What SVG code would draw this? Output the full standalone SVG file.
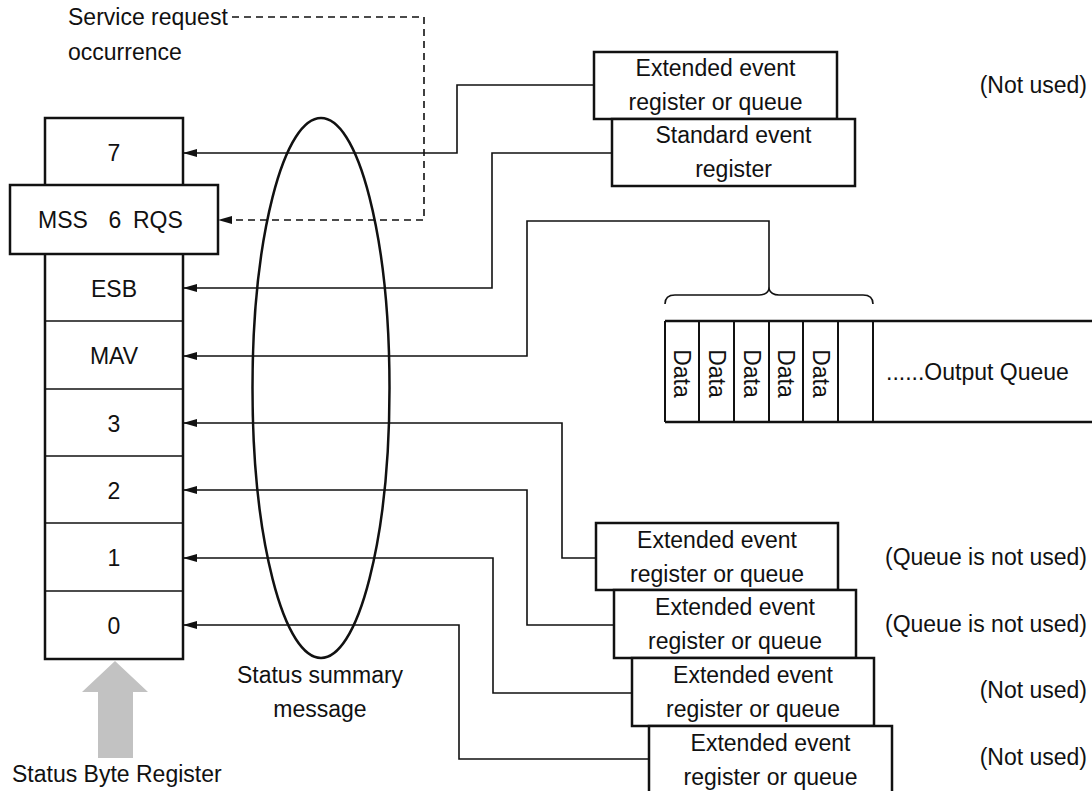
<svg xmlns="http://www.w3.org/2000/svg" width="1092" height="791" viewBox="0 0 1092 791">
<style>
  text { font-family: "Liberation Sans", Arial, sans-serif; font-size: 23px; fill: #111; }
  .c { text-anchor: middle; }
  .r { text-anchor: end; }
  .box { fill: #fff; stroke: #111; stroke-width: 2.5; }
  .thin { stroke: #111; stroke-width: 1.5; fill: none; }
  .conn { stroke: #111; stroke-width: 1.6; fill: none; }
  .dash { stroke: #111; stroke-width: 1.6; fill: none; stroke-dasharray: 7 5; }
</style>
<defs>
  <marker id="ah" viewBox="0 0 14 8" refX="14" refY="4" markerWidth="14" markerHeight="8" markerUnits="userSpaceOnUse" orient="auto">
    <path d="M0,0 L14,4 L0,8 z" fill="#111"/>
  </marker>
</defs>
<rect width="1092" height="791" fill="#fff"/>

<!-- Status byte register -->
<g id="status-byte-register">
  <rect class="box" x="45" y="118" width="138" height="541"/>
  <rect class="box" x="10" y="185" width="208" height="69"/>
  <line class="thin" x1="45" y1="321" x2="183" y2="321"/>
  <line class="thin" x1="45" y1="389" x2="183" y2="389"/>
  <line class="thin" x1="45" y1="456" x2="183" y2="456"/>
  <line class="thin" x1="45" y1="523" x2="183" y2="523"/>
  <line class="thin" x1="45" y1="591" x2="183" y2="591"/>
  <text class="c" x="114" y="161">7</text>
  <text x="38" y="228">MSS</text>
  <text class="c" x="115" y="228">6</text>
  <text x="133" y="228">RQS</text>
  <text class="c" x="114" y="297">ESB</text>
  <text class="c" x="114" y="364">MAV</text>
  <text class="c" x="114" y="432">3</text>
  <text class="c" x="114" y="499">2</text>
  <text class="c" x="114" y="566">1</text>
  <text class="c" x="114" y="634">0</text>
  <polygon points="115,661 148,692 133,692 133,758 98,758 98,692 82,692" fill="#c2c2c2"/>
  <text x="12" y="782">Status Byte Register</text>
</g>

<g id="summary-ellipse">
  <ellipse cx="321" cy="388" rx="68.5" ry="270" fill="none" stroke="#111" stroke-width="2.5"/>
  <text class="c" x="320" y="683">Status summary</text>
  <text class="c" x="320" y="717">message</text>
</g>

<g id="service-request">
  <text x="68" y="25">Service request</text>
  <text x="68" y="60">occurrence</text>
</g>

<g id="ext-top">
  <rect class="box" x="594" y="52" width="243" height="67"/>
  <text class="c" x="715.5" y="76">Extended event</text>
  <text class="c" x="715.5" y="110">register or queue</text>
  <text class="r" x="1087" y="93">(Not used)</text>
</g>

<g id="std-event">
  <rect class="box" x="612" y="119" width="243" height="67"/>
  <text class="c" x="733.5" y="143">Standard event</text>
  <text class="c" x="733.5" y="177">register</text>
</g>

<g id="output-queue">
  <path d="M665,304 Q665,295 675,295 H759 Q767,295 769,289 Q771,295 779,295 H863 Q873,295 873,304" fill="none" stroke="#111" stroke-width="1.6"/>
  <line x1="665" y1="321" x2="1092" y2="321" stroke="#111" stroke-width="2.5"/>
  <line x1="665" y1="422" x2="1092" y2="422" stroke="#111" stroke-width="2.5"/>
  <g stroke="#111" stroke-width="2">
    <line x1="665" y1="321" x2="665" y2="422"/>
    <line x1="699" y1="321" x2="699" y2="422"/>
    <line x1="734" y1="321" x2="734" y2="422"/>
    <line x1="769" y1="321" x2="769" y2="422"/>
    <line x1="803" y1="321" x2="803" y2="422"/>
    <line x1="838" y1="321" x2="838" y2="422"/>
    <line x1="873" y1="321" x2="873" y2="422"/>
  </g>
  <text class="c" transform="translate(674,373.5) rotate(90)">Data</text>
  <text class="c" transform="translate(708.5,373.5) rotate(90)">Data</text>
  <text class="c" transform="translate(743.5,373.5) rotate(90)">Data</text>
  <text class="c" transform="translate(778,373.5) rotate(90)">Data</text>
  <text class="c" transform="translate(812.5,373.5) rotate(90)">Data</text>
  <text x="886" y="380">......Output Queue</text>
</g>

<g id="ext-a">
  <rect class="box" x="596" y="523" width="242" height="67"/>
  <text class="c" x="717" y="548">Extended event</text>
  <text class="c" x="717" y="582">register or queue</text>
  <text class="r" x="1087" y="565">(Queue is not used)</text>
</g>
<g id="ext-b">
  <rect class="box" x="614" y="590" width="242" height="68"/>
  <text class="c" x="735" y="615">Extended event</text>
  <text class="c" x="735" y="649">register or queue</text>
  <text class="r" x="1087" y="632">(Queue is not used)</text>
</g>
<g id="ext-c">
  <rect class="box" x="632" y="658" width="242" height="68"/>
  <text class="c" x="753" y="683">Extended event</text>
  <text class="c" x="753" y="717">register or queue</text>
  <text class="r" x="1087" y="698">(Not used)</text>
</g>
<g id="ext-d">
  <rect class="box" x="649" y="726" width="243" height="80"/>
  <text class="c" x="770.5" y="751">Extended event</text>
  <text class="c" x="770.5" y="785">register or queue</text>
  <text class="r" x="1087" y="765">(Not used)</text>
</g>

<g id="connectors">
  <path class="dash" d="M232,17 H424 V220 H218" marker-end="url(#ah)"/>
  <path class="conn" d="M594,85 H457 V153 H183" marker-end="url(#ah)"/>
  <path class="conn" d="M612,153 H492 V288 H183" marker-end="url(#ah)"/>
  <path class="conn" d="M769,290 V221 H527 V356 H183" marker-end="url(#ah)"/>
  <path class="conn" d="M596,558 H562 V423 H183" marker-end="url(#ah)"/>
  <path class="conn" d="M614,625 H527 V490 H183" marker-end="url(#ah)"/>
  <path class="conn" d="M632,693 H493 V558 H183" marker-end="url(#ah)"/>
  <path class="conn" d="M649,759 H459 V625 H183" marker-end="url(#ah)"/>
</g>
</svg>
